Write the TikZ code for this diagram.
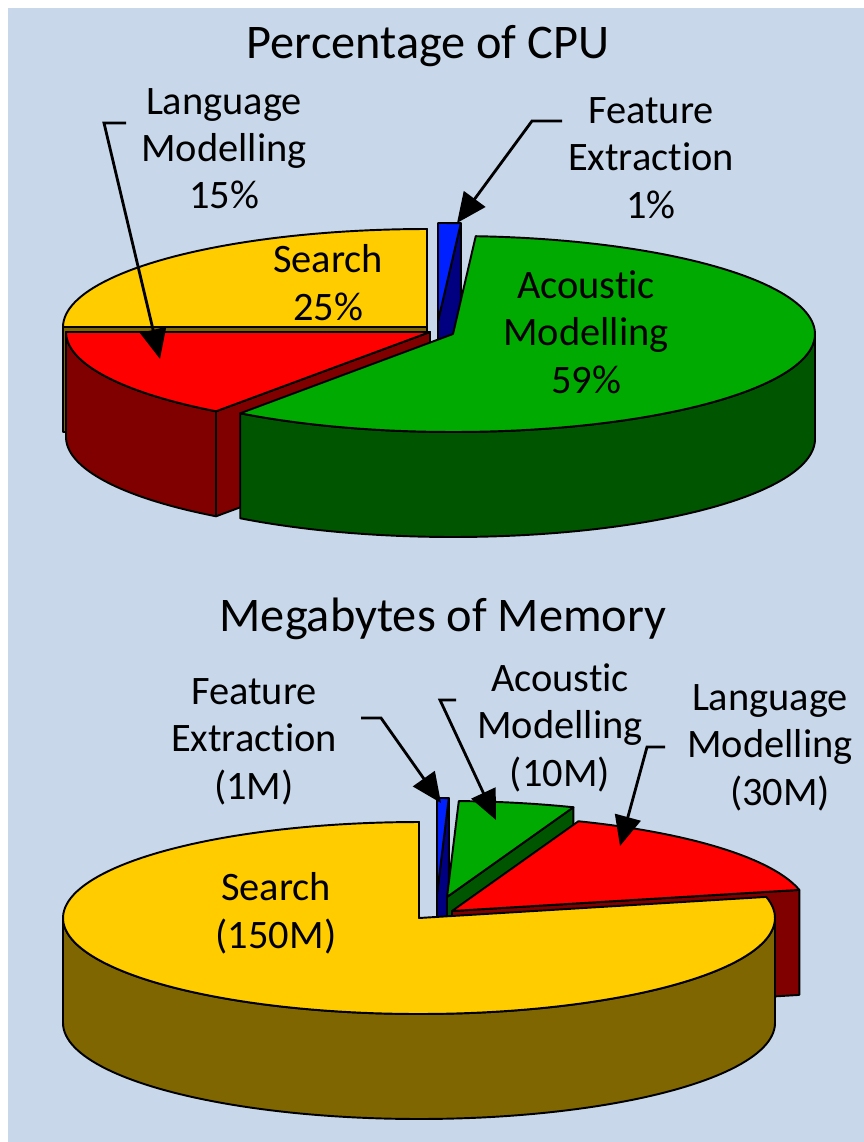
\documentclass[tikz,border=0pt]{standalone}
\usepackage{fontspec}
\setmainfont[Ligatures=NoCommon]{Carlito}
\usetikzlibrary{arrows.meta}
\definecolor{bgblue}{RGB}{200,216,234}
\definecolor{srchtop}{RGB}{255,204,0}
\definecolor{srchside}{RGB}{128,102,0}
\definecolor{lmtop}{RGB}{255,0,0}
\definecolor{lmside}{RGB}{128,0,0}
\definecolor{amtop}{RGB}{0,170,0}
\definecolor{amside}{RGB}{0,85,0}
\definecolor{fetop}{RGB}{0,32,255}
\definecolor{feside}{RGB}{0,0,128}
\begin{document}
\begin{tikzpicture}[x=0.02cm, y=-0.02cm,
  slice/.style = {draw=black, line width=1.1pt, line join=round},
  heading/.style = {font=\fontsize{27.5}{33}\selectfont, anchor=base, inner sep=0pt},
  tag/.style = {font=\fontsize{23}{27}\selectfont, align=center, anchor=base, inner sep=0pt},
  pointer/.style = {line width=1.6pt, -{Triangle[length=17pt,width=15pt]}}]
  \useasboundingbox (0,0) rectangle (864,1142);
  \fill[bgblue] (8,8) rectangle (864,1142);

  % Percentage of CPU
  \node[heading] (cputitle) at (428,59) {Percentage of CPU};
  \filldraw[slice, fill=srchside] (63,327) rectangle (427,432);
  \filldraw[slice, fill=srchtop] (427,327) -- plot[domain=90:180, samples=50] ({427+364*cos(\x)},{327-98*sin(\x)}) -- cycle;
  \filldraw[slice, fill=feside] (438,321) -- (460.9,223.2) -- (460.9,328.2) -- (438,426) -- cycle;
  \filldraw[slice, fill=fetop] (438,321) -- plot[domain=86.4:90, samples=5] ({438+364*cos(\x)},{321-98*sin(\x)}) -- cycle;
  \filldraw[slice, fill=lmside] plot[domain=180:234, samples=40] ({430+364*cos(\x)},{332-98*sin(\x)})
    -- plot[domain=234:180, samples=40] ({430+364*cos(\x)},{437-98*sin(\x)}) -- cycle;
  \filldraw[slice, fill=lmside] (430,332) -- (216,411.3) -- (216,516.3) -- (430,437) -- cycle;
  \filldraw[slice, fill=lmtop] (430,332) -- plot[domain=180:234, samples=40] ({430+364*cos(\x)},{332-98*sin(\x)}) -- cycle;
  \filldraw[slice, fill=amside] plot[domain=-126:0, samples=80] ({453+362*cos(\x)},{334-98*sin(\x)})
    -- plot[domain=0:-126, samples=80] ({453+362*cos(\x)},{439-98*sin(\x)}) -- cycle;
  \filldraw[slice, fill=amtop] (453,334) -- plot[domain=-126:86.4, samples=120] ({453+362*cos(\x)},{334-98*sin(\x)}) -- cycle;

  \node[tag] (cpulm) at (224,209) {Language\\Modelling\\15\%};
  \node[tag] (cpufe) at (651,218) {Feature\\Extraction\\1\%};
  \node[tag] (cpusearch) at (328,320) {Search\\25\%};
  \node[tag] (cpuam) at (586,393) {Acoustic\hspace{0.5em}\\Modelling\\59\%};
  \coordinate (cpulmtip) at (160,359);
  \coordinate (cpufetip) at (457,223);
  \draw[pointer] (126,123) -- (104,123) -- (cpulmtip);
  \draw[pointer] (562,121) -- (532,121) -- (cpufetip);

  % Megabytes of Memory
  \node[heading] (memtitle) at (443,631) {Megabytes of Memory};
  \filldraw[slice, fill=feside] (437,894) -- (448.8,798.1) -- (448.8,903.1) -- (437,999) -- cycle;
  \filldraw[slice, fill=fetop] (437,894) -- plot[domain=88.1:90, samples=5] ({437+356*cos(\x)},{894-96*sin(\x)}) -- cycle;
  \filldraw[slice, fill=amside] (447,897) -- (573.4,807.2) -- (573.4,912.2) -- (447,1002) -- cycle;
  \filldraw[slice, fill=amtop] (447,897) -- plot[domain=69.2:88.1, samples=15] ({447+356*cos(\x)},{897-96*sin(\x)}) -- cycle;
  \filldraw[slice, fill=lmside] (452,911) -- (799.3,889.9) -- (799.3,994.9) -- (452,1016) -- cycle;
  \filldraw[slice, fill=lmtop] (452,911) -- plot[domain=12.7:69.2, samples=40] ({452+356*cos(\x)},{911-96*sin(\x)}) -- cycle;
  \filldraw[slice, fill=srchside] plot[domain=180:360, samples=100] ({419+356*cos(\x)},{918-96*sin(\x)})
    -- plot[domain=360:180, samples=100] ({419+356*cos(\x)},{1023-96*sin(\x)}) -- cycle;
  \filldraw[slice, fill=srchtop] (419,918) -- plot[domain=90:372.7, samples=150] ({419+356*cos(\x)},{918-96*sin(\x)}) -- cycle;

  \node[tag] (memfe) at (254,799) {Feature\\Extraction\\(1M)};
  \node[tag] (memam) at (560,786) {Acoustic\\Modelling\\(10M)};
  \node[tag] (memlm) at (770,805) {Language\hspace{0.5em}\\Modelling\\\hspace{0.5em}(30M)};
  \node[tag] (memsearch) at (276,948) {Search\\(150M)};
  \coordinate (memfetip) at (441,803);
  \coordinate (memamtip) at (496,820);
  \coordinate (memlmtip) at (620,846);
  \draw[pointer] (361,718) -- (381,718) -- (memfetip);
  \draw[pointer] (456,700) -- (440,700) -- (memamtip);
  \draw[pointer] (665,747) -- (647,747) -- (memlmtip);
\end{tikzpicture}
\end{document}
